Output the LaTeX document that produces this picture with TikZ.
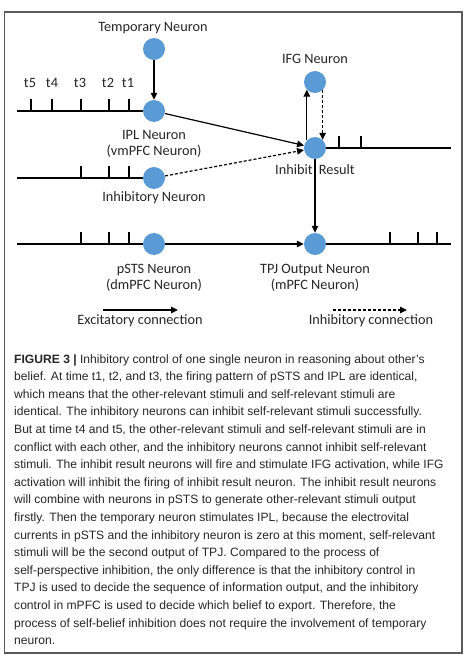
\documentclass[tikz,border=0pt]{standalone}
\usepackage{fontspec}
\setmainfont{Liberation Sans}
\newfontfamily\diafont{Carlito}
\usetikzlibrary{arrows.meta}
\definecolor{nblue}{HTML}{5B9BD5}
\definecolor{frame}{HTML}{5A5A5A}
\begin{document}
\begin{tikzpicture}[x=1pt,y=-1pt,
  neuron/.style={circle, fill=nblue, minimum size=22pt, inner sep=0pt},
  lbl/.style={font=\diafont\fontsize{14.3}{16}\selectfont, text=black!85, align=center, inner sep=0pt},
  wire/.style={line width=1.2pt, black},
  exc/.style={wire, -{Triangle[length=7pt,width=6.5pt]}},
  inh/.style={wire, dash pattern=on 3pt off 2pt, -{Triangle[length=7pt,width=6.5pt]}},
  spike/.style={wire},
  captxt/.style={font=\fontsize{12.1}{14}\selectfont, text=black!85, anchor=base west, inner sep=0pt}]
\useasboundingbox (0,0) rectangle (475,663);
\draw[line width=1.2pt, draw=frame] (4.5,12) rectangle (462,653);

% neurons
\node[neuron] (temp) at (154,49) {};
\node[neuron] (ipl) at (154,111) {};
\node[neuron] (inh) at (154,178) {};
\node[neuron] (psts) at (154,244) {};
\node[neuron] (ir) at (315,148) {};
\node[neuron] (ifg) at (315,82) {};
\node[neuron] (tpj) at (315,244) {};

% labels
\node[lbl] (ltemp) at (153,28) {Temporary Neuron};
\node[lbl] (lifg) at (315,59) {IFG Neuron};
\node[lbl] (lipl) at (154,144) {IPL Neuron\\(vmPFC Neuron)};
\node[lbl] (linh) at (154,198) {Inhibitory Neuron};
\node[lbl] (lir) at (315,170) {Inhibit\hspace{3pt} Result};
\node[lbl] (lpsts) at (154,277.5) {pSTS Neuron\\(dmPFC Neuron)};
\node[lbl] (ltpj) at (315,277.5) {TPJ Output Neuron\\(mPFC Neuron)};
\foreach \x/\t in {30/t5,52/t4,80/t3,108/t2,128/t1}
  \node[lbl] (lab\t) at (\x,83) {\t};

% spike trains
\coordinate (iplstart) at (17,111);
\coordinate (inhstart) at (17,178);
\coordinate (pstsstart) at (17,244);
\coordinate (irend) at (451,148);
\coordinate (tpjend) at (451,244);
\draw[wire] (iplstart) -- (ipl);
\draw[wire] (inhstart) -- (inh);
\draw[wire] (pstsstart) -- (psts);
\draw[wire] (ir) -- (irend);
\draw[wire] (tpj) -- (tpjend);
\foreach \x in {31,52,81,109,129} \draw[spike] (\x,111) -- (\x,99);
\foreach \x in {81,109,129} \draw[spike] (\x,178) -- (\x,166);
\foreach \x in {81,109,129} \draw[spike] (\x,244) -- (\x,232);
\foreach \x in {339,361} \draw[spike] (\x,148) -- (\x,136);
\foreach \x in {390,418,437} \draw[spike] (\x,244) -- (\x,232);

% connections
\draw[exc] (temp) -- (ipl);
\draw[exc] (ipl) -- (ir);
\draw[inh] (inh) -- (ir);
\draw[exc] (ir.137) -- (ifg.223);
\draw[inh] (ifg.-47) -- (ir.47);
\draw[exc] (ir) -- (tpj);
\draw[exc] (psts) -- (tpj);

% legend
\coordinate (e1) at (103,310);
\coordinate (e2) at (178,310);
\coordinate (i1) at (333,310);
\coordinate (i2) at (407,310);
\draw[exc] (e1) -- (e2);
\draw[inh] (i1) -- (i2);
\node[lbl] (lexc) at (140,321) {Excitatory connection};
\node[lbl] (linhc) at (371,321) {Inhibitory connection};

% caption
\foreach \t [count=\i] in {
{\textbf{FIGURE 3 |} Inhibitory control of one single neuron in reasoning about other’s},
{belief. At time t1, t2, and t3, the firing pattern of pSTS and IPL are identical,},
{which means that the other-relevant stimuli and self-relevant stimuli are},
{identical. The inhibitory neurons can inhibit self-relevant stimuli successfully.},
{But at time t4 and t5, the other-relevant stimuli and self-relevant stimuli are in},
{conflict with each other, and the inhibitory neurons cannot inhibit self-relevant},
{stimuli. The inhibit result neurons will fire and stimulate IFG activation, while IFG},
{activation will inhibit the firing of inhibit result neuron. The inhibit result neurons},
{will combine with neurons in pSTS to generate other-relevant stimuli output},
{firstly. Then the temporary neuron stimulates IPL, because the electrovital},
{currents in pSTS and the inhibitory neuron is zero at this moment, self-relevant},
{stimuli will be the second output of TPJ. Compared to the process of},
{self-perspective inhibition, the only difference is that the inhibitory control in},
{TPJ is used to decide the sequence of information output, and the inhibitory},
{control in mPFC is used to decide which belief to export. Therefore, the},
{process of self-belief inhibition does not require the involvement of temporary},
{neuron.}}
  \node[captxt] (cap\i) at (14,{363+17.6*(\i-1)}) {\t};
\end{tikzpicture}
\end{document}
